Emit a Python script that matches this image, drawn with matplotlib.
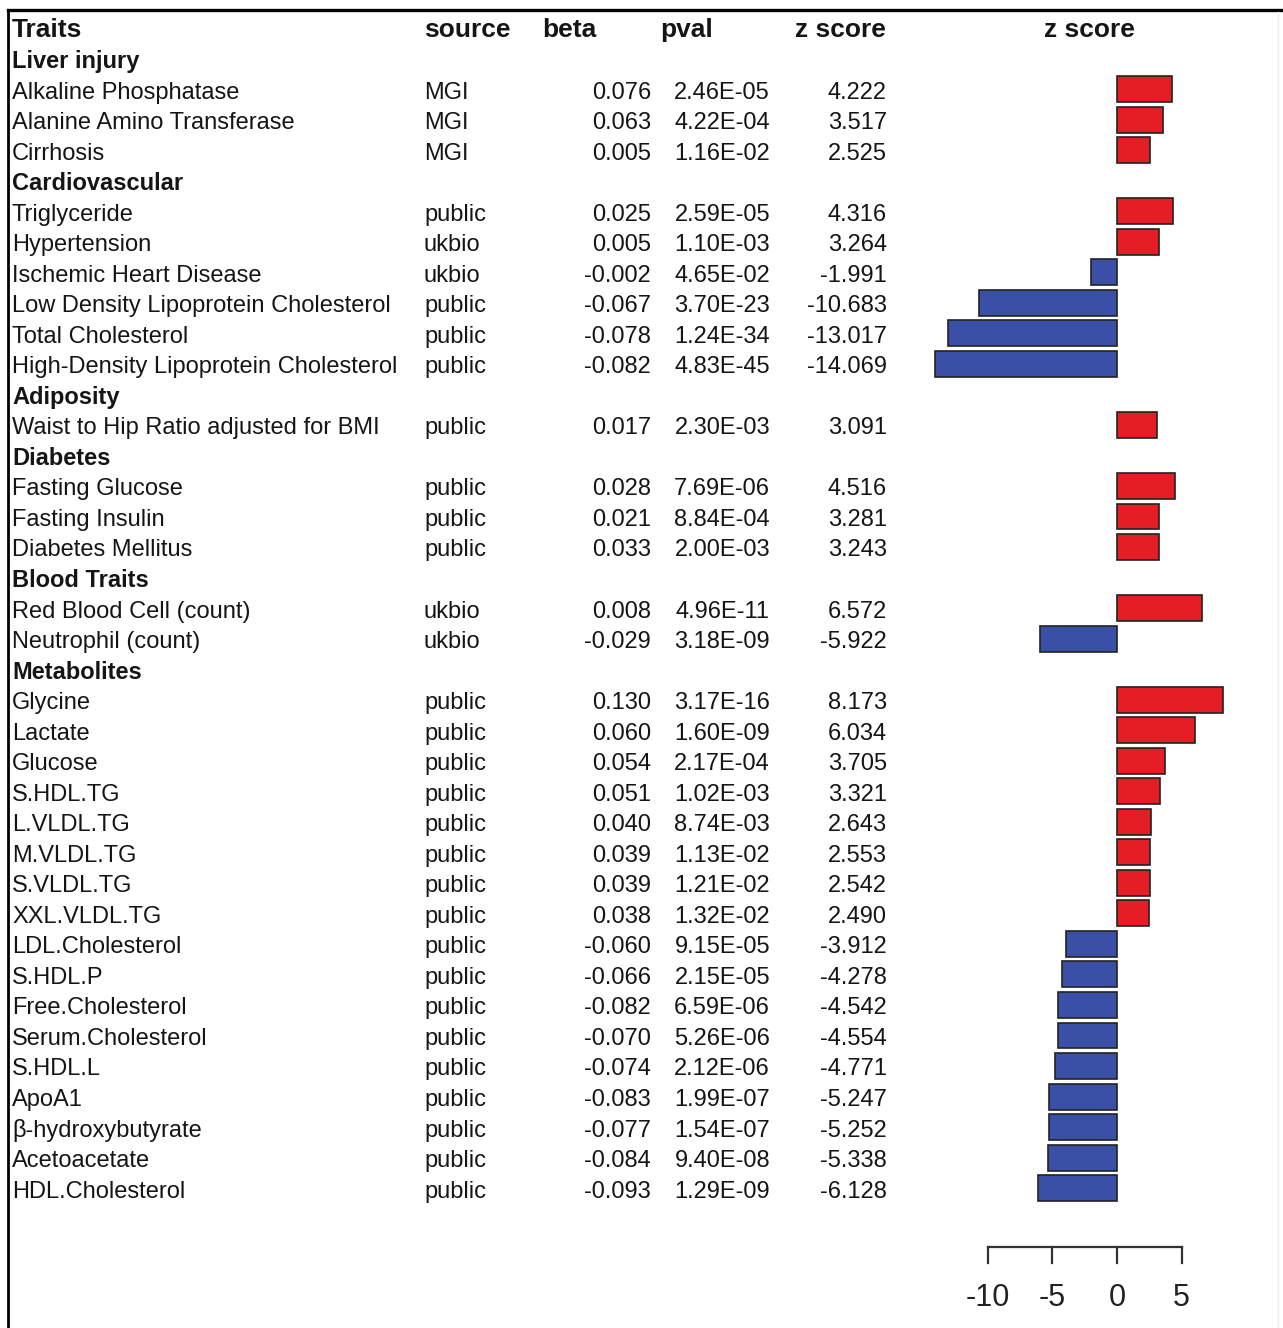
import matplotlib
matplotlib.use("Agg")
import matplotlib.pyplot as plt
from matplotlib import transforms
from matplotlib.lines import Line2D

plt.rcParams['font.family'] = ['Liberation Sans', 'DejaVu Sans']

# groups and how many traits each holds
groups = ["Liver injury", "Cardiovascular", "Adiposity", "Diabetes", "Blood Traits", "Metabolites"]
group_sizes = [3, 6, 1, 3, 2, 17]

traits = ["Alkaline Phosphatase", "Alanine Amino Transferase", "Cirrhosis",
          "Triglyceride", "Hypertension", "Ischemic Heart Disease",
          "Low Density Lipoprotein Cholesterol", "Total Cholesterol",
          "High-Density Lipoprotein Cholesterol",
          "Waist to Hip Ratio adjusted for BMI",
          "Fasting Glucose", "Fasting Insulin", "Diabetes Mellitus",
          "Red Blood Cell (count)", "Neutrophil (count)",
          "Glycine", "Lactate", "Glucose", "S.HDL.TG", "L.VLDL.TG", "M.VLDL.TG",
          "S.VLDL.TG", "XXL.VLDL.TG", "LDL.Cholesterol", "S.HDL.P",
          "Free.Cholesterol", "Serum.Cholesterol", "S.HDL.L", "ApoA1",
          "β-hydroxybutyrate", "Acetoacetate", "HDL.Cholesterol"]
source = ["MGI", "MGI", "MGI",
          "public", "ukbio", "ukbio", "public", "public", "public",
          "public",
          "public", "public", "public",
          "ukbio", "ukbio"] + ["public"] * 17
beta = ["0.076", "0.063", "0.005",
        "0.025", "0.005", "-0.002", "-0.067", "-0.078", "-0.082",
        "0.017",
        "0.028", "0.021", "0.033",
        "0.008", "-0.029",
        "0.130", "0.060", "0.054", "0.051", "0.040", "0.039", "0.039", "0.038",
        "-0.060", "-0.066", "-0.082", "-0.070", "-0.074", "-0.083", "-0.077",
        "-0.084", "-0.093"]
pval = ["2.46E-05", "4.22E-04", "1.16E-02",
        "2.59E-05", "1.10E-03", "4.65E-02", "3.70E-23", "1.24E-34", "4.83E-45",
        "2.30E-03",
        "7.69E-06", "8.84E-04", "2.00E-03",
        "4.96E-11", "3.18E-09",
        "3.17E-16", "1.60E-09", "2.17E-04", "1.02E-03", "8.74E-03", "1.13E-02",
        "1.21E-02", "1.32E-02", "9.15E-05", "2.15E-05", "6.59E-06", "5.26E-06",
        "2.12E-06", "1.99E-07", "1.54E-07", "9.40E-08", "1.29E-09"]
zscore = [4.222, 3.517, 2.525,
          4.316, 3.264, -1.991, -10.683, -13.017, -14.069,
          3.091,
          4.516, 3.281, 3.243,
          6.572, -5.922,
          8.173, 6.034, 3.705, 3.321, 2.643, 2.553, 2.542, 2.490,
          -3.912, -4.278, -4.542, -4.554, -4.771, -5.247, -5.252, -5.338, -6.128]
axis_ticks = [-10, -5, 0, 5]

W, H = 1283, 1328
fig = plt.figure(figsize=(W / 100, H / 100), dpi=100)
ax = fig.add_axes([0, 0, 1, 1])
ax.axis('off')

# pixel layout: header row at y=28, rows 30.53 px apart, zero at x=1117
row_px, top_px = 30.53, 28
zero_px, unit_px = 1117, 12.95
ax.set_xlim(-zero_px / unit_px, (W - zero_px) / unit_px)
ax.set_ylim((H - top_px) / row_px, -top_px / row_px)

tr = transforms.blended_transform_factory(ax.transAxes, ax.transData)
base_off = 0.31  # baseline sits a bit below the row centre

def put(xpx, row, s, ha='left', bold=False, fs=17):
    ax.text(xpx / W, row + base_off, s, transform=tr, ha=ha, va='baseline', fontsize=fs,
            fontweight='bold' if bold else 'normal', color='#151515')

# header (slightly bigger than the body text)
put(12, 0, "Traits", bold=True, fs=19)
put(424, 0, "source", bold=True, fs=19)
put(542, 0, "beta", bold=True, fs=19)
put(660, 0, "pval", bold=True, fs=19)
put(886, 0, "z score", ha='right', bold=True, fs=19)
put(1089, 0, "z score", ha='center', bold=True, fs=19)

# rows
rows = []
r = 1
k = 0
for g, n in zip(groups, group_sizes):
    put(12, r, g, bold=True)
    r += 1
    for _ in range(n):
        put(12, r, traits[k])
        put(424, r, source[k])
        put(651, r, beta[k], ha='right')
        put(770, r, pval[k], ha='right')
        put(887, r, f"{zscore[k]:.3f}", ha='right')
        rows.append(r)
        r += 1
        k += 1

colors = ['#E41E24' if z > 0 else '#3A50A6' for z in zscore]
ax.barh(rows, zscore, height=0.85, color=colors, edgecolor='#222222', linewidth=1.2)

# R-style axis at the bottom
y_axis = (1247 - top_px) / row_px
y_tick = (1263 - top_px) / row_px
y_lab = (1298 - top_px) / row_px
ax.plot([axis_ticks[0], axis_ticks[-1]], [y_axis, y_axis], color='#333333', lw=1.6)
for t in axis_ticks:
    ax.plot([t, t], [y_axis, y_tick], color='#333333', lw=1.6)
    ax.text(t, y_lab, str(t), ha='center', va='center', fontsize=22, color='#222222')

# frame lines top and left, faint edge on the right
fig.add_artist(Line2D([8 / W, 1], [1 - 10 / H, 1 - 10 / H], color='black', lw=2.4))
fig.add_artist(Line2D([8 / W, 8 / W], [0, 1 - 10 / H], color='black', lw=2.0))
fig.add_artist(Line2D([1278 / W, 1278 / W], [0, 1 - 12 / H], color='#eeeeee', lw=1.0))

fig.savefig("out.png", dpi=100)
